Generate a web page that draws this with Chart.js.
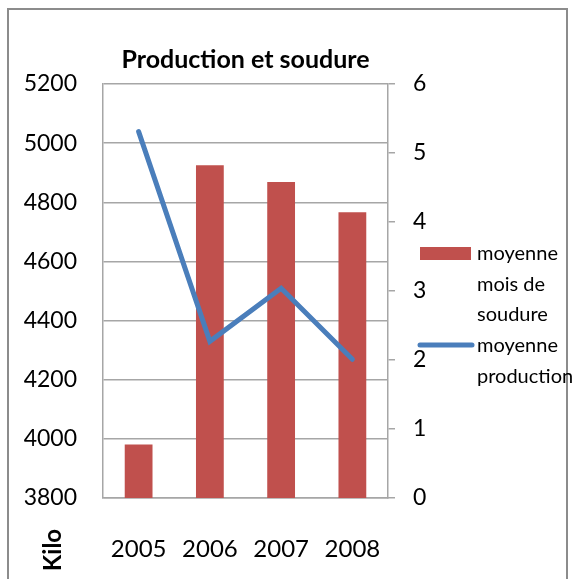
<!DOCTYPE html>
<html>
<head>
<meta charset="utf-8">
<script src="https://cdn.jsdelivr.net/npm/chart.js@4"></script>
<style>
    html, body { margin: 0; padding: 0; background: #fff; }
    #wrap { position: relative; width: 577px; height: 579px; overflow: hidden; }
    #frame { position: absolute; left: 7px; top: 8px; width: 561px; height: 600px; border: 2px solid #8c8c8c; box-sizing: border-box; }
    canvas { position: absolute; left: 0; top: 0; }
</style>
</head>
<body>
<div id="wrap">
    <div id="frame"></div>
    <canvas id="chart" width="577" height="579"></canvas>
</div>
<script>
// Data
const years = ['2005', '2006', '2007', '2008'];
const soudureValues = [3981, 4925, 4869, 4766];     // bars, left axis (Kilo)
const productionValues = [5.31, 2.27, 3.04, 2.01];  // line, right axis
const soudureLegend = ['moyenne', 'mois de', 'soudure'];
const productionLegend = ['moyenne', 'production'];

const barColor = '#c0504d';
const lineColor = '#4a7ebb';
const gridColor = '#a6a6a6';
const fontFamily = 'Lato';

// Custom legend and the "Kilo" label (legend text wraps over several lines)
const sideLabels = {
    id: 'sideLabels',
    afterDraw(chart) {
        const ctx = chart.ctx;
        ctx.save();

        // Legend: bar swatch
        ctx.fillStyle = barColor;
        ctx.fillRect(420, 247, 51, 13);
        // Legend: line swatch
        ctx.strokeStyle = lineColor;
        ctx.lineWidth = 5;
        ctx.lineCap = 'round';
        ctx.beginPath();
        ctx.moveTo(420, 345);
        ctx.lineTo(472, 345);
        ctx.stroke();

        ctx.fillStyle = '#000';
        ctx.font = '20px ' + fontFamily;
        ctx.textAlign = 'left';
        ctx.textBaseline = 'middle';
        soudureLegend.forEach((t, i) => ctx.fillText(t, 477, 254 + i * 30.5));
        productionLegend.forEach((t, i) => ctx.fillText(t, 477, 346 + i * 30.5));

        // Rotated "Kilo" at bottom left
        ctx.translate(53, 550);
        ctx.rotate(-Math.PI / 2);
        ctx.font = 'bold 24px ' + fontFamily;
        ctx.textAlign = 'center';
        ctx.fillText('Kilo', 0, 0);
        ctx.restore();
    }
};

new Chart(document.getElementById('chart'), {
    data: {
        labels: years,
        datasets: [{
            type: 'line',
            label: productionLegend.join(' '),
            data: productionValues,
            yAxisID: 'y1',
            borderColor: lineColor,
            borderWidth: 5,
            borderCapStyle: 'round',
            pointRadius: 0,
            tension: 0,
            order: 0
        }, {
            type: 'bar',
            label: soudureLegend.join(' '),
            data: soudureValues,
            yAxisID: 'y',
            backgroundColor: barColor,
            barPercentage: 0.39,
            categoryPercentage: 1,
            order: 1
        }]
    },
    options: {
        responsive: false,
        animation: false,
        layout: { padding: 0 },
        scales: {
            x: {
                offset: true,
                grid: { display: false, drawTicks: false },
                border: { color: gridColor, width: 1.5 },
                ticks: {
                    color: '#000',
                    padding: 37,
                    font: { family: fontFamily, size: 24 }
                },
                afterFit(scale) { scale.height = 81; }
            },
            y: {
                position: 'left',
                min: 3800,
                max: 5200,
                grid: { color: gridColor, lineWidth: 1.5, drawTicks: false },
                border: { color: gridColor, width: 1.5 },
                ticks: {
                    stepSize: 200,
                    color: '#000',
                    padding: 26,
                    font: { family: fontFamily, size: 23 },
                    callback: v => String(v)
                },
                afterFit(scale) { scale.width = 103; }
            },
            y1: {
                position: 'right',
                min: 0,
                max: 6,
                grid: { drawOnChartArea: false, color: gridColor, lineWidth: 1.5, tickLength: 7 },
                border: { color: gridColor, width: 1.5 },
                ticks: {
                    stepSize: 1,
                    color: '#000',
                    padding: 18,
                    font: { family: fontFamily, size: 23 }
                },
                afterFit(scale) { scale.width = 189; }
            }
        },
        plugins: {
            legend: { display: false },
            tooltip: { enabled: false },
            title: {
                display: true,
                fullSize: false,
                text: 'Production et soudure',
                color: '#000',
                font: { family: fontFamily, size: 25, weight: 'bold' },
                padding: { top: 45, bottom: 9 }
            }
        }
    },
    plugins: [sideLabels]
});
</script>
</body>
</html>
